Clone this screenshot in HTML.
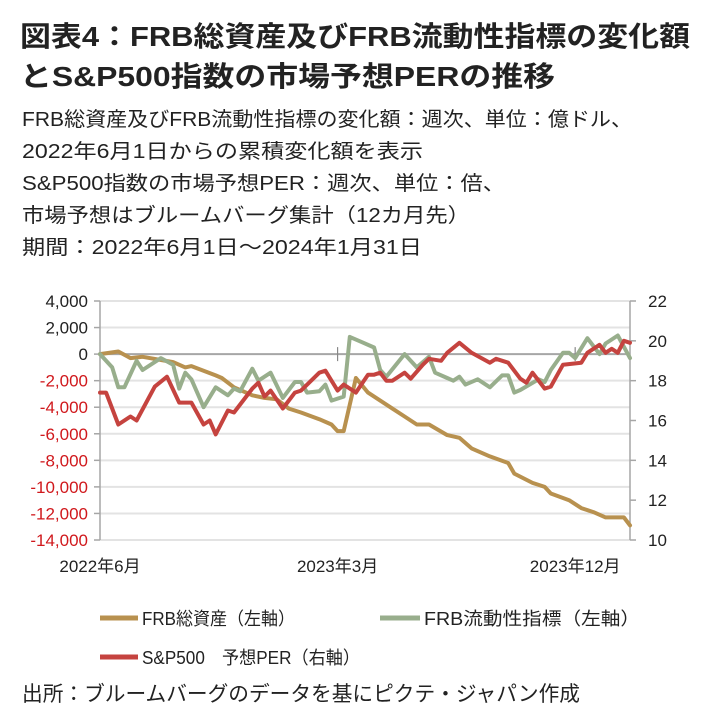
<!DOCTYPE html>
<html><head><meta charset="utf-8"><style>
html,body{margin:0;padding:0;background:#fff}
svg{display:block;font-family:"Liberation Sans","Noto Sans CJK JP",sans-serif}
</style></head><body>
<svg id="chart" width="706" height="715" viewBox="0 0 706 715">
<g font-weight="bold" font-size="28" fill="#222">
<text x="20" y="46" textLength="670" lengthAdjust="spacingAndGlyphs">図表4：FRB総資産及びFRB流動性指標の変化額</text>
<text x="20" y="86" textLength="535" lengthAdjust="spacingAndGlyphs">とS&amp;P500指数の市場予想PERの推移</text>
</g>
<g font-size="20" fill="#222">
<text x="22" y="126" textLength="610" lengthAdjust="spacingAndGlyphs">FRB総資産及びFRB流動性指標の変化額：週次、単位：億ドル、</text>
<text x="22" y="158" textLength="401" lengthAdjust="spacingAndGlyphs">2022年6月1日からの累積変化額を表示</text>
<text x="22" y="190" textLength="483" lengthAdjust="spacingAndGlyphs">S&amp;P500指数の市場予想PER：週次、単位：倍、</text>
<text x="22" y="222" textLength="448" lengthAdjust="spacingAndGlyphs">市場予想はブルームバーグ集計（12カ月先）</text>
<text x="22" y="254" textLength="400" lengthAdjust="spacingAndGlyphs">期間：2022年6月1日～2024年1月31日</text>
</g>
<g id="grid"></g>
<g id="axes"></g>
<g id="series"></g>
<g font-size="18" fill="#222">
<g>
<line x1="100" y1="618" x2="138" y2="618" stroke="#B8914F" stroke-width="5"/>
<text x="142" y="625" textLength="153" lengthAdjust="spacingAndGlyphs">FRB総資産（左軸）</text></g>
<g>
<line x1="380" y1="618" x2="420" y2="618" stroke="#98AE8C" stroke-width="5"/>
<text x="424" y="625" textLength="216" lengthAdjust="spacingAndGlyphs">FRB流動性指標（左軸）</text></g>
<g>
<line x1="100" y1="657" x2="138" y2="657" stroke="#C5433F" stroke-width="5"/>
<text x="142" y="664" textLength="218" lengthAdjust="spacingAndGlyphs">S&amp;P500　予想PER（右軸）</text></g>
</g>
<text x="22" y="701" font-size="21" fill="#222" textLength="558" lengthAdjust="spacingAndGlyphs">出所：ブルームバーグのデータを基にピクテ・ジャパン作成</text>
</svg>
<script>
const leftTicks=[4000,2000,0,-2000,-4000,-6000,-8000,-10000,-12000,-14000];
const rightTicks=[22,20,18,16,14,12,10];
const xLabels=["2022年6月","2023年3月","2023年12月"];
const xLabelWeeks=[0,39,78];
const assetsWeeks=[0,3,5,7,12,14,15,19,20,22,25,27,29,31,33,36,38,39,40,42,44,46,48,50,52,54,57,59,61,64,67,68,71,73,74,77,79,81,83,86,87];
const assetsValues=[0,200,-300,-200,-600,-1000,-900,-1600,-1800,-2500,-3100,-3300,-3400,-4100,-4400,-4900,-5300,-5800,-5800,-1800,-2900,-3500,-4100,-4700,-5300,-5300,-6100,-6300,-7100,-7700,-8200,-9000,-9700,-10000,-10500,-11000,-11600,-11900,-12300,-12300,-12900];
const liqWeeks=[0,2,3,4,6,7,10,12,13,14,15,17,19,21,22,23,25,26,28,30,32,33,34,36,37,38,40,41,43,45,46,47,50,52,54,55,57,58,59,60,62,64,66,67,68,69,72,73,74,76,77,78,80,82,83,85,87];
const liqValues=[0,-1000,-2500,-2500,-500,-1200,-300,-800,-2600,-1400,-1900,-4000,-2500,-3100,-2600,-2800,-1100,-2000,-1400,-3300,-2100,-2100,-2900,-2800,-2300,-3500,-3200,1300,900,500,-1200,-1700,0,-1000,-200,-1400,-1800,-2000,-1700,-2300,-1900,-2500,-1600,-1600,-2900,-2700,-1900,-2100,-1200,100,100,-300,1200,0,800,1400,-300];
const perWeeks=[0,1,3,5,6,9,11,13,15,17,18,19,21,22,25,26,27,28,30,32,33,36,37,39,40,42,44,45,46,47,48,50,51,53,54,56,57,59,61,64,65,67,69,70,71,73,74,76,79,80,82,83,84,85,86,87];
const perValues=[17.4,17.4,15.8,16.2,16.0,17.7,18.2,16.9,16.9,15.8,16.0,15.3,16.5,16.4,17.6,17.9,17.2,17.5,16.6,17.4,17.5,18.4,18.5,17.5,17.8,17.4,18.3,18.3,18.4,18.0,18.0,18.4,18.1,18.8,19.1,19.0,19.4,19.9,19.4,18.9,19.1,18.9,18.1,17.9,18.4,17.6,17.7,18.8,18.9,19.4,19.8,19.4,19.6,19.4,20.0,19.9];

const NS='http://www.w3.org/2000/svg';
const X0=100,X1=630,Y0=301,Y1=540,NW=87;
const x=w=>X0+(X1-X0)*w/NW;
const yL=v=>Y0+(4000-v)/18000*(Y1-Y0);
const yR=v=>Y0+(22-v)/12*(Y1-Y0);
function mk(tag,attrs,parent){const e=document.createElementNS(NS,tag);for(const k in attrs)e.setAttribute(k,attrs[k]);parent.appendChild(e);return e;}
const grid=document.getElementById('grid'),axes=document.getElementById('axes'),series=document.getElementById('series');
leftTicks.forEach(v=>{
  const g=mk('line',{x1:X0,x2:X1,y1:yL(v),y2:yL(v),stroke:v===0?'#a6a6a6':'#e3e3e3','stroke-width':v===0?2:2},grid);
  
  
  const t=mk('line',{x1:X0-6,x2:X0,y1:yL(v),y2:yL(v),stroke:'#a6a6a6','stroke-width':1.5},axes);
  
  
  const l=mk('text',{x:88,y:yL(v)+6,'text-anchor':'end','font-size':17,fill:v<0?'#d0181c':'#222'},axes);
  l.textContent=v.toLocaleString('en-US');
  
  
});
rightTicks.forEach(v=>{
  const t=mk('line',{x1:X1,x2:X1+6,y1:yR(v),y2:yR(v),stroke:'#a6a6a6','stroke-width':1.5},axes);
  
  
  const l=mk('text',{x:648,y:yR(v)+6,'font-size':17,fill:'#222'},axes);
  l.textContent=v;
  
  
});
const la=mk('line',{x1:X0,x2:X0,y1:Y0,y2:Y1,stroke:'#a6a6a6','stroke-width':1.5},axes);


const ra=mk('line',{x1:X1,x2:X1,y1:Y0,y2:Y1,stroke:'#a6a6a6','stroke-width':1.5},axes);


xLabelWeeks.forEach((w,i)=>{
  if(i>0){const t=mk('line',{x1:x(w),x2:x(w),y1:yL(0)-7,y2:yL(0)+7,stroke:'#888','stroke-width':1.2},axes);
  
  }
  const l=mk('text',{x:x(w),y:572,'text-anchor':'middle','font-size':17,fill:'#222'},axes);
  l.textContent=xLabels[i];
  
  
});
function line(ws,vs,yf,color,name){
  const d=ws.map((w,i)=>(i?'L':'M')+x(w).toFixed(1)+' '+yf(vs[i]).toFixed(1)).join(' ');
  const p=mk('path',{d:d,fill:'none',stroke:color,'stroke-width':4,'stroke-linejoin':'round','stroke-linecap':'round'},series);
  
  
}
line(assetsWeeks,assetsValues,yL,'#B8914F','frb-assets-line');
line(liqWeeks,liqValues,yL,'#98AE8C','frb-liquidity-line');
line(perWeeks,perValues,yR,'#C5433F','sp500-per-line');
</script>
</body></html>
